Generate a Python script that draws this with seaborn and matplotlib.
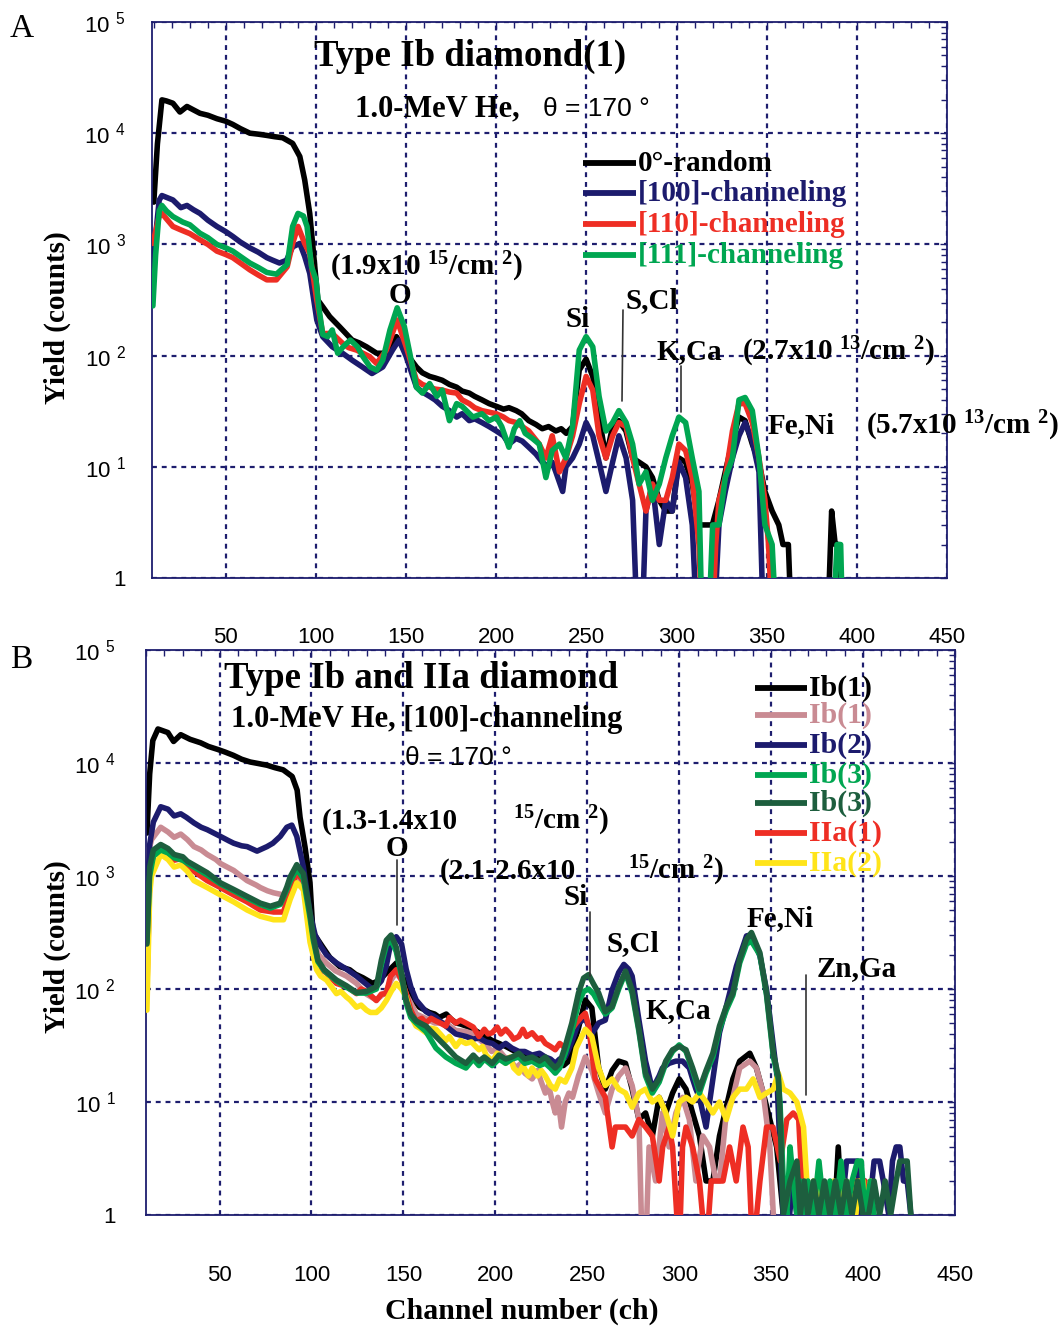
import numpy as np
import pandas as pd
import matplotlib
matplotlib.use("Agg")
import matplotlib.pyplot as plt
import seaborn as sns
from matplotlib.lines import Line2D
from matplotlib.ticker import MultipleLocator, LogLocator, FuncFormatter, NullFormatter

# ------------------------------------------------------------------ data
# Panel A : Type Ib diamond(1), 1.0-MeV He
a_random_ch = [10, 12, 14.5, 17, 20.6, 24.5, 28.4, 32, 35.6, 40, 45, 50, 53.8, 58, 63.3, 68, 72.7, 77, 81.5, 87,
               91, 93.7, 96.5, 99.3, 101, 103.7, 107.6, 113, 120, 124, 128, 133.6, 137, 141, 144.6, 148, 152, 155.7, 159, 163,
               166, 170, 174, 178, 181, 185, 188, 192, 196, 200, 204, 207, 211, 214, 218, 222, 225.5, 229, 233, 236,
               238.8, 242.3, 246, 249.8, 253.5, 257, 260.8, 264.5, 268, 271.9, 275.6, 279.2, 283, 286.6, 290.4, 294, 297.6, 301.3, 305, 308.7,
               312.4, 316, 319.8, 323.5, 327, 331, 334.6, 338, 342, 345.7, 349, 353, 356.7, 359, 362, 363.5, 384, 386, 388, 390,
               391.5]
a_random_cnt = [2400, 8000, 19950, 19500, 18600, 15500, 17400, 16200, 15100, 14500, 13500, 12800, 12000, 11000, 10000, 9800, 9550, 9300, 9100, 8100,
                6170, 3800, 1900, 630, 316, 275, 224, 182, 138, 130, 120, 105, 105, 112, 148, 120, 95, 79, 70, 65,
                63, 60, 55, 52, 48, 46, 43, 40, 37, 35, 33, 34, 32, 30, 26, 24, 22, 23, 21, 22,
                20, 23, 74, 93, 65, 28, 12, 23, 26, 21, 12, 11, 10, 8, 5, 4, 4, 12, 11, 7,
                3, 3, 3, 5, 9, 17, 28, 26, 16, 11, 6, 4, 3, 2, 2, 0, 0, 4, 2, 2,
                0]

a_100_ch = [9.5, 11, 13, 14.5, 17, 20.6, 25, 28.4, 32, 35.6, 40, 45, 50, 53.8, 58, 63.3, 68, 72.7, 76, 79.7,
            83.6, 87, 91, 93.7, 96.5, 100.4, 103.7, 109, 114.7, 120, 125.7, 131, 137, 142.4, 146, 150, 155.7, 159, 163, 166,
            170, 174, 178, 181, 185, 188, 192, 196, 200, 204, 207, 211, 214.4, 218, 222, 225.5, 229, 231, 233, 236.8,
            238.6, 242.3, 246, 249.8, 253.5, 257, 260.8, 264.5, 268, 272, 275.6, 278, 281, 283, 286.6, 290.4, 294, 297.6, 301.3, 305,
            308.7, 311, 321, 323.5, 327, 331, 334.6, 338, 342, 345.7, 348]
a_100_cnt = [480, 1200, 2500, 2750, 2650, 2510, 2140, 2240, 2050, 1900, 1650, 1450, 1300, 1180, 1050, 930, 850, 760, 720, 680,
             720, 950, 1020, 780, 550, 210, 148, 120, 105, 91, 79, 69, 79, 112, 138, 98, 52, 47, 43, 40,
             35, 32, 28, 30, 26, 27, 25, 23, 21, 19, 16, 18, 17, 15, 13, 11, 10, 11, 9, 6,
             10, 12, 16, 25, 19, 11, 6, 11, 19, 12, 5, 0, 0, 4, 7, 2, 5, 4, 11, 8,
             3, 0, 0, 3, 6, 12, 19, 25, 17, 9, 0]

a_110_ch = [9.5, 11, 13, 14.5, 17, 20.6, 25, 30, 35.6, 40, 45, 50, 53.8, 58, 63.3, 68, 72.7, 78, 84, 87,
            90, 93.7, 96.5, 100.4, 103.7, 109, 114.7, 118, 122.5, 126, 129.7, 133.6, 139, 145, 150, 155.7, 159, 163, 166, 170,
            174, 178, 181, 185, 188, 192, 196, 200, 204, 207, 211, 214.4, 218, 223.8, 227.5, 231, 235, 238.6, 242.3, 246,
            249.8, 253.5, 257, 260.8, 264.5, 268, 272, 275.6, 279.2, 283, 286.6, 290.4, 294, 297.6, 301.3, 305, 308.7, 312.4, 314, 320,
            321.7, 323.5, 327, 331, 334.6, 338, 342, 345.7, 349, 351, 353]
a_110_cnt = [1020, 1300, 1800, 1900, 1700, 1450, 1350, 1250, 1100, 1000, 870, 810, 760, 680, 590, 530, 480, 480, 630, 1020,
             1450, 1020, 830, 316, 158, 158, 129, 118, 112, 105, 98, 85, 112, 209, 120, 60, 55, 52, 50, 49,
             47, 46, 40, 37, 34, 32, 31, 30, 28, 26, 25, 23, 21, 16, 12, 19, 9, 12, 19, 37,
             65, 49, 19, 12, 19, 25, 23, 12, 7, 4, 7, 5, 5, 8, 16, 14, 8, 2, 0, 0,
             2, 5, 8, 21, 37, 37, 25, 12, 5, 2, 0]

a_111_ch = [9.5, 11, 13, 14.5, 17, 20.6, 26, 30, 35.6, 40, 45, 50, 53.8, 58, 63.3, 68, 72.7, 78, 84, 87,
            90, 93, 95, 97.5, 100, 101.5, 103.7, 106.5, 109, 112, 115, 119, 123, 126, 130, 133.6, 137, 141, 145, 149,
            152, 155.7, 159, 163, 167, 170, 174, 178, 181, 187, 192, 196, 200, 203, 207, 210, 213, 216, 220, 223.8,
            227.5, 231, 235, 238.6, 242.3, 246, 249.8, 253.5, 257, 260.8, 264.5, 268, 272, 275.6, 279.2, 283, 286.6, 290.4, 294, 297.6,
            301.3, 305, 308.7, 312.4, 314, 318, 320, 323.5, 327, 331, 334.6, 338, 342, 345.7, 349, 353, 355, 387, 389, 391,
            392]
a_111_cnt = [280, 800, 2000, 2240, 2000, 1780, 1590, 1500, 1260, 1150, 1000, 930, 870, 780, 680, 620, 560, 540, 660, 1450,
             1900, 1800, 1450, 630, 480, 275, 155, 148, 170, 105, 120, 138, 120, 98, 79, 74, 91, 170, 269, 182,
             105, 52, 46, 56, 43, 49, 26, 37, 35, 28, 30, 26, 28, 23, 15, 22, 26, 20, 18, 16,
             8, 14, 16, 12, 23, 112, 148, 120, 43, 21, 25, 32, 25, 16, 7, 9, 5, 7, 12, 19,
             28, 25, 12, 6, 0, 0, 3, 3, 8, 12, 40, 42, 32, 12, 3, 2, 0, 0, 2, 2,
             0]

a_labels = ["0\u00b0-random", "[100]-channeling", "[110]-channeling", "[111]-channeling"]

# Panel B : Type Ib and IIa diamond, [100]-channeling
b_ib1r_ch = [10.5, 12, 13.7, 16.5, 21.9, 25, 28.9, 34, 39.7, 44, 48.9, 53, 57.5, 62, 66.7, 71, 75.9, 80, 84.6, 89.5,
             92.2, 93.8, 96.5, 99.2, 100.8, 103, 106.2, 110, 115.4, 120.8, 124, 127.9, 133.3, 137, 140, 142.5, 146.2, 149.5, 153.3, 158.7,
             161, 164.1, 167, 169.5, 173.3, 176, 178.7, 181, 184.1, 188, 191.1, 195, 198.2, 202, 205.7, 209, 212.8, 216, 219.8, 224,
             227.4, 231, 234.4, 237, 239.9, 242, 245.2, 248.9, 252.5, 256.2, 259.8, 263.5, 267.1, 270.8, 274.4, 278.1, 281.7, 285.4, 289.1, 292.7,
             296.4, 300, 303.7, 307.3, 311, 314.6, 318.3, 321.9, 325.6, 329.2, 332.9, 338.4, 342, 345.7, 349.3, 353, 354.8, 356.6, 358, 383,
             384.5, 386.5, 388.5, 390]
b_ib1r_cnt = [2400, 8000, 15800, 20000, 18600, 15500, 17800, 16200, 15100, 14000, 13200, 12500, 11700, 10800, 10200, 9900, 9550, 9100, 8700, 7600,
              5750, 3300, 1800, 870, 316, 280, 234, 190, 158, 148, 135, 126, 112, 120, 135, 148, 170, 129, 91, 69,
              66, 62, 60, 56, 60, 54, 50, 49, 47, 44, 41, 38, 35, 33, 31, 29, 27, 26, 25, 24,
              23, 22, 22, 21, 23, 30, 45, 80, 68, 20, 13, 19, 23, 22, 13, 7, 8, 5, 11, 8,
              12, 16, 13, 8, 5, 2, 2, 5, 9, 16, 23, 27, 20, 12, 7, 4, 2, 1, 0, 0,
              1, 4, 1, 0]

b_ib1c_ch = [10.5, 12, 13, 18, 22, 25.3, 28.9, 32.5, 36.1, 40, 43.3, 48, 50.5, 55, 57.7, 62, 65, 70, 72.2, 76,
             79.4, 84.8, 88.4, 92, 95.6, 99.2, 101, 104, 108, 113, 119, 124.5, 129.9, 135.3, 140.7, 143.3, 146.1, 149, 151.5, 154,
             157, 162, 167, 173, 178.5, 184, 188, 191, 195, 198, 201, 205, 208, 211, 214, 216, 220, 223, 225, 227.2,
             229, 231, 232.6, 234, 236, 238, 240, 242, 245.2, 248.9, 252.5, 256.2, 259.8, 263.5, 267.1, 270.8, 274.4, 278.1, 279.9, 281.7,
             283.6, 287.2, 290.9, 294.5, 298.2, 301.8, 305.5, 309.1, 312.8, 316.5, 320, 322, 325.6, 329.2, 332.9, 338.4, 342, 345.7, 349.3, 351.2,
             353]
b_ib1c_cnt = [300, 1800, 2100, 2700, 2450, 2200, 2350, 2100, 1820, 1700, 1550, 1400, 1290, 1180, 1120, 990, 910, 830, 790, 740,
              710, 680, 790, 910, 760, 400, 260, 200, 170, 145, 130, 112, 90, 80, 95, 120, 140, 120, 90, 75,
              60, 55, 50, 50, 43, 42, 40, 36, 32, 28, 30, 25, 24, 20, 22, 18, 16, 19, 15, 12,
              14, 10, 8, 11, 6, 10, 12, 11, 17, 25, 19, 12, 8, 13, 17, 20, 14, 7, 0, 0,
              4, 2, 8, 4, 8, 11, 7, 2, 5, 4, 2, 2, 8, 11, 20, 23, 20, 12, 4, 1,
              0]

b_ib2_ch = [10.5, 12, 14, 18, 22, 25.3, 28.9, 32, 36.1, 40, 43.3, 48, 50.5, 55, 57.7, 62, 65, 70.4, 75.8, 79,
            83, 86.6, 89.3, 92, 95.6, 99.2, 102, 105, 108.2, 113.6, 119, 124.5, 129.9, 133, 135.3, 138, 140.7, 143, 146.1, 149,
            151.5, 154, 156.9, 162.3, 167.7, 173.1, 178.5, 184, 188, 191.1, 195, 198.3, 202, 205.6, 209, 212.8, 216, 220, 224, 227.2,
            230, 232.6, 235, 238, 241.6, 245.2, 248.9, 252.5, 256.2, 259.8, 263.5, 267.1, 269.9, 272.5, 274.4, 278.1, 281.7, 285.4, 289.1, 290.9,
            294.5, 298.2, 301.8, 305.5, 307.3, 309.1, 311, 314.6, 318.3, 321.9, 325.6, 331.1, 336.6, 339.3, 343.9, 347.5, 351.2, 353, 354.8, 356.6,
            358.5, 360, 362, 364, 367, 369, 371, 374, 376, 378, 380, 383, 385, 388, 391, 394, 397, 399, 401, 403,
            406, 409, 411, 414, 416, 418, 420, 422, 424, 426, 428]
b_ib2_cnt = [600, 1900, 3000, 4100, 3900, 3400, 3550, 3300, 2950, 2700, 2570, 2350, 2240, 2050, 1950, 1850, 1820, 1660, 1820, 1950,
             2240, 2700, 2820, 2240, 1200, 470, 300, 240, 200, 170, 150, 130, 110, 100, 105, 118, 160, 250, 290, 250,
             150, 105, 80, 63, 56, 47, 40, 38, 36, 37, 34, 33, 30, 33, 30, 28, 28, 26, 27, 25,
             24, 22, 24, 25, 34, 50, 55, 40, 50, 53, 98, 140, 165, 150, 130, 53, 23, 13, 17, 20,
             22, 23, 23, 20, 16, 13, 11, 6, 16, 41, 70, 159, 295, 302, 196, 98, 31, 18, 4, 1,
             2, 1, 2, 1, 2, 2, 1, 1, 2, 1, 0, 1, 2, 1, 3, 3, 3, 1, 2, 1,
             3, 3, 2, 1, 3, 4, 4, 2, 2, 1, 0]

b_ib3_ch = [10.5, 12, 14, 18, 22, 25.3, 30, 32.5, 36.1, 43.3, 50.5, 57.7, 65, 72.2, 77.6, 83, 86.6, 88.4, 92, 95.6,
            99.2, 101, 103.5, 107, 113.6, 119, 124.5, 129.9, 135.3, 138, 140.7, 143.3, 146.1, 149, 151.5, 154, 157, 162.3, 167.7, 173.1,
            178.5, 184, 188, 191.1, 194, 198.3, 202, 205.6, 209, 212.8, 216, 220, 224, 227.2, 230, 232.6, 235, 238, 241.6, 245.2,
            248, 250.7, 253.5, 256.2, 259.8, 263.5, 267.1, 270.8, 274.4, 278.1, 281.7, 285.4, 289.1, 292.7, 296.4, 300, 303.7, 307.3, 311, 314.6,
            318.3, 321.9, 325.6, 329.2, 332.9, 336.6, 339.3, 343.9, 347.5, 351.2, 353.9, 354.8, 356.6, 358.5, 360.3, 362, 364, 366, 368, 370,
            373, 376, 379, 382, 385, 388, 391, 394, 397, 399, 401, 404, 406, 408]
b_ib3_cnt = [260, 1000, 1500, 1700, 1600, 1450, 1380, 1300, 1200, 1020, 850, 740, 640, 560, 520, 560, 760, 900, 1150, 950,
             430, 270, 175, 145, 118, 104, 92, 92, 100, 165, 245, 270, 215, 130, 75, 56, 50, 42, 30, 25,
             22, 20, 24, 21, 24, 21, 24, 22, 24, 25, 22, 23, 21, 22, 20, 18, 20, 27, 42, 75,
             95, 100, 90, 75, 60, 68, 100, 140, 92, 42, 17, 12, 15, 22, 28, 32, 28, 19, 12, 18,
             25, 44, 65, 88, 170, 250, 265, 200, 88, 25, 16, 10, 2, 1, 4, 2, 1, 2, 1, 2,
             1, 3, 1, 2, 1, 3, 1, 2, 3, 3, 1, 2, 1, 0]

b_ib3d_ch = [10.5, 12, 14, 18, 22, 25.3, 30, 32.5, 36.1, 43.3, 50.5, 57.7, 65, 72.2, 77.6, 83, 86.6, 88.4, 92, 95.6,
             99.2, 101, 103.5, 107, 113.6, 119, 124.5, 129.9, 135.3, 138, 140.7, 143.3, 146.1, 149, 151.5, 154, 157, 162.3, 167.7, 173.1,
             178.5, 184, 188, 191.1, 194, 198.3, 202, 205.6, 209, 212.8, 216, 220, 224, 227.2, 230, 232.6, 235, 238, 241.6, 245.2,
             248, 250.7, 253.5, 256.2, 259.8, 263.5, 267.1, 270.8, 274.4, 278.1, 281.7, 285.4, 289.1, 292.7, 296.4, 300, 303.7, 307.3, 311, 314.6,
             318.3, 321.9, 325.6, 329.2, 332.9, 336.6, 339.3, 343.9, 347.5, 351.2, 353.9, 354.8, 356.6, 360.3, 364, 365.8, 368, 370, 373, 376,
             379, 382, 385, 388, 391, 394, 397, 400, 403, 406, 409, 412, 415, 418, 420, 422, 424, 426, 427]
b_ib3d_cnt = [250, 1200, 1700, 1900, 1750, 1550, 1480, 1350, 1250, 1070, 870, 760, 660, 575, 540, 575, 800, 980, 1260, 1050,
              470, 290, 180, 148, 120, 107, 93, 95, 105, 180, 270, 300, 235, 138, 80, 60, 52, 47, 38, 31,
              25, 22, 26, 23, 25, 22, 26, 24, 25, 27, 24, 25, 23, 25, 22, 20, 22, 31, 50, 92,
              125, 134, 110, 92, 63, 70, 105, 144, 98, 44, 18, 13, 16, 23, 29, 31, 29, 20, 13, 19,
              27, 47, 70, 92, 182, 275, 316, 209, 92, 27, 17, 8, 1, 2, 3, 1, 2, 1, 2, 1,
              2, 1, 2, 1, 2, 1, 2, 1, 1, 2, 1, 2, 1, 2, 3, 3, 3, 1, 0]

b_iia1_ch = [10.5, 12, 14, 18, 22, 25.3, 28.9, 32.5, 36.1, 43.3, 50.5, 57.7, 65, 72.2, 79.4, 84.8, 88.4, 92, 95.6, 99.2,
             102.8, 105, 108.2, 113.6, 119, 124.5, 127, 129.9, 135.3, 138, 140.7, 143, 146.1, 149, 151.5, 154, 156.9, 160, 162.3, 165,
             167.7, 170, 173.1, 175, 178.5, 181, 184, 188, 191.1, 194, 196, 198.3, 201, 203, 205.6, 208, 210, 212.8, 215, 217,
             220, 223, 225, 227.2, 230, 232.6, 235, 238, 241.6, 244, 247, 248.9, 250.7, 254.3, 259.8, 263.5, 265.3, 270.8, 274.4, 278.1,
             281.7, 285.4, 289.1, 291, 294.5, 296.4, 300, 301.8, 303.7, 307.3, 311, 314.6, 317.4, 320, 323.8, 327.4, 331, 334.7, 337.5, 340,
             343.9, 347.5, 351, 355, 358.5, 362, 365, 366.7, 369.4, 371, 393, 395, 398, 401, 403]
b_iia1_cnt = [100, 900, 1500, 1800, 1600, 1380, 1420, 1250, 1100, 910, 790, 680, 590, 500, 480, 480, 760, 1070, 900, 320,
              160, 150, 138, 112, 105, 91, 100, 95, 79, 90, 91, 130, 148, 120, 91, 65, 52, 55, 50, 55,
              52, 50, 47, 56, 50, 53, 50, 46, 38, 44, 40, 41, 46, 40, 44, 40, 36, 38, 44, 38,
              41, 36, 37, 33, 31, 29, 33, 30, 44, 50, 57, 61, 47, 16, 11, 4, 6, 6, 5, 7,
              6, 5, 2, 4, 6, 4, 0, 4, 6, 4, 2, 0, 2, 2, 2, 4, 2, 6, 4, 0,
              2, 6, 6, 3, 7, 8, 7, 2, 1, 0, 0, 2, 2, 2, 0]

b_iia2_ch = [10.5, 12, 13, 18, 22, 25.3, 28.9, 32.5, 36.1, 43.3, 50.5, 57.7, 65, 72.2, 79.4, 84.8, 88.4, 92, 95.6, 99.2,
             102.8, 105, 108.2, 113.6, 116, 119, 121, 124.5, 127, 129.9, 132, 135.3, 138, 140.7, 143.3, 146.1, 149, 151.5, 154, 156.9,
             159, 162.3, 165, 167.7, 170, 173.1, 175, 178.5, 181, 184, 187, 191.1, 193, 195, 198.3, 201, 205.6, 208, 210, 212.8,
             215, 218, 220, 223, 225, 227.2, 230, 232.6, 235, 238, 241.6, 244, 247, 248.9, 250.7, 252.5, 256.2, 259.8, 263.5, 267.1,
             270.8, 274.4, 278.1, 281.7, 285.4, 289.1, 292.7, 296.4, 300, 303.7, 307.3, 311, 314.6, 318.3, 321.9, 325.6, 329.2, 332.9, 336.6, 340.2,
             343.9, 347.5, 351.2, 353.9, 356.6, 360.3, 364, 367.6, 369.4, 371.3, 373, 375, 377, 379, 381, 384, 386, 388, 390, 392,
             394, 396, 398, 400, 402, 404, 406]
b_iia2_cnt = [65, 700, 1000, 1550, 1400, 1200, 1250, 1100, 910, 790, 680, 590, 500, 440, 410, 410, 620, 870, 760, 260,
              148, 130, 120, 91, 95, 85, 80, 69, 72, 65, 62, 62, 68, 79, 95, 112, 100, 85, 58, 47,
              45, 41, 45, 44, 40, 35, 38, 31, 35, 33, 34, 29, 31, 26, 23, 27, 22, 25, 20, 18,
              21, 17, 20, 17, 19, 17, 14, 13, 16, 15, 20, 30, 38, 44, 41, 38, 20, 14, 16, 13,
              12, 9, 12, 13, 10, 11, 8, 5, 10, 11, 10, 12, 10, 8, 10, 7, 11, 13, 13, 16,
              11, 12, 13, 18, 13, 12, 10, 6, 2, 1, 2, 1, 2, 1, 1, 2, 1, 1, 2, 1,
              2, 1, 2, 2, 1, 2, 0]

b_labels = ["Ib(1)", "Ib(1)", "Ib(2)", "Ib(3)", "Ib(3)", "IIa(1)", "IIa(2)"]

# ------------------------------------------------------------------ style
sns.set_theme(style="white")
SERIF = "Liberation Serif"
SANS = "Liberation Sans"
plt.rcParams["font.family"] = [SERIF, "DejaVu Serif"]
plt.rcParams["mathtext.default"] = "regular"

AXC = "#1e1e6e"
BLACK = "#000000"
NAVY = "#1c1b6d"
RED = "#ee2e24"
GREEN = "#00a651"
PINK = "#c98b93"
DKGREEN = "#1d5e3e"
YELLOW = "#ffe41a"
LW = 4.0

W, H = 1063, 1327
fig = plt.figure(figsize=(W / 100, H / 100), dpi=100)
fig.patch.set_facecolor("white")


def fx(px):
    return px / W


def fy(py):
    return 1 - py / H


def ylab(v, pos):
    e = int(round(np.log10(v)))
    return "1" if e == 0 else "10 $^{%d}$" % e


def style_axes(ax, xlim, ypad, xpad):
    ax.set_yscale("log")
    ax.set_xlim(*xlim)
    ax.set_ylim(1, 1e5)
    ax.xaxis.set_major_locator(MultipleLocator(50))
    ax.xaxis.set_minor_locator(MultipleLocator(10))
    ax.yaxis.set_major_locator(LogLocator(base=10, numticks=10))
    ax.yaxis.set_minor_locator(LogLocator(base=10, subs=np.arange(2, 10), numticks=30))
    ax.yaxis.set_minor_formatter(NullFormatter())
    ax.yaxis.set_major_formatter(FuncFormatter(ylab))
    ax.tick_params(which="both", direction="in", top=True, right=True, color=AXC,
                   labelcolor="black", labelfontfamily=SANS, labelsize=16, width=1.0)
    ax.tick_params(which="major", length=5)
    ax.tick_params(which="minor", length=4)
    ax.tick_params(axis="x", pad=xpad)
    ax.tick_params(axis="y", pad=ypad)
    ax.grid(True, which="major", color=AXC, linestyle=(0, (2.2, 2.2)), linewidth=1.6)
    ax.set_axisbelow(True)
    for s in ax.spines.values():
        s.set_color(AXC)
        s.set_linewidth(1.3)
    ax.set_xlabel("")
    ax.set_ylabel("")


def draw(ax, ch, cnt, color, z):
    assert len(ch) == len(cnt), (len(ch), len(cnt))
    c = np.asarray(cnt, dtype=float)
    df = pd.DataFrame({"ch": ch, "cnt": np.where(c > 0, c, 0.45)})  # zero counts fall below the axis
    sns.lineplot(data=df, x="ch", y="cnt", ax=ax, color=color, lw=LW, estimator=None,
                 sort=False, zorder=z, legend=False)


def ftxt(xp, yp, s, size, ha="center", va="baseline", family=SERIF, weight="bold", color="black", **kw):
    fig.text(fx(xp), fy(yp), s, fontsize=size, ha=ha, va=va, family=family,
             fontweight=weight, color=color, **kw)


def legend(x0, x1, ys, labels, colors, size):
    for y, lab, c in zip(ys, labels, colors):
        fig.add_artist(Line2D([fx(x0), fx(x1)], [fy(y), fy(y)], transform=fig.transFigure,
                              color=c, lw=4.2, solid_capstyle="butt"))
        ftxt(x1 + 2, y + 8, lab, size, ha="left", color=c)


def pointer(p0, p1):
    fig.add_artist(Line2D([fx(p0[0]), fx(p1[0])], [fy(p0[1]), fy(p1[1])], transform=fig.transFigure,
                          color="#333333", lw=1.2))


# ------------------------------------------------------------------ panel A
axA = fig.add_axes([fx(152), fy(578), (947 - 152) / W, (578 - 22) / H])
axA.set_yscale("log")
draw(axA, a_random_ch, a_random_cnt, BLACK, 2)
draw(axA, a_100_ch, a_100_cnt, NAVY, 3)
draw(axA, a_110_ch, a_110_cnt, RED, 4)
draw(axA, a_111_ch, a_111_cnt, GREEN, 5)
style_axes(axA, (9, 450), 19, 35)

# ------------------------------------------------------------------ panel B
axB = fig.add_axes([fx(146), fy(1215), (955 - 146) / W, (1215 - 650) / H])
axB.set_yscale("log")
draw(axB, b_ib1r_ch, b_ib1r_cnt, BLACK, 2)
draw(axB, b_ib1c_ch, b_ib1c_cnt, PINK, 3)
draw(axB, b_ib2_ch, b_ib2_cnt, NAVY, 4)
draw(axB, b_iia1_ch, b_iia1_cnt, RED, 5)
draw(axB, b_iia2_ch, b_iia2_cnt, YELLOW, 6)
draw(axB, b_ib3_ch, b_ib3_cnt, GREEN, 7)
draw(axB, b_ib3d_ch, b_ib3d_cnt, DKGREEN, 8)
style_axes(axB, (10, 450), 22, 36)

# ------------------------------------------------------------------ texts panel A
ftxt(10, 37, "A", 24, ha="left", weight="normal")
ftxt(470, 66, "Type Ib diamond(1)", 26.5)
ftxt(355, 116, "1.0-MeV He,", 22, ha="left")
ftxt(543, 116, "\u03b8 = 170 \u00b0", 19, ha="left", family=SANS, weight="normal")
legend(583, 636, [163, 193, 224, 255], a_labels, [BLACK, NAVY, RED, GREEN], 21)
ftxt(330, 275, "(1.9x10 $^{15}$/cm $^{2}$)", 21, ha="left")
ftxt(400, 303, "O", 21)
ftxt(578, 327, "Si", 21)
ftxt(652, 308, "S,Cl", 21)
ftxt(689, 359, "K,Ca", 21)
ftxt(742, 360, "(2.7x10 $^{13}$/cm $^{2}$)", 21, ha="left")
ftxt(801, 433, "Fe,Ni", 21)
ftxt(866, 434, "(5.7x10 $^{13}$/cm $^{2}$)", 21, ha="left")
pointer((623, 310), (622, 401))
pointer((681, 366), (681, 412))
ftxt(57, 318, "Yield (counts)", 21, va="center", rotation=90)

# ------------------------------------------------------------------ texts panel B
ftxt(10, 668, "B", 24, ha="left", weight="normal")
ftxt(421, 688, "Type Ib and IIa diamond", 26.5)
ftxt(427, 727, "1.0-MeV He, [100]-channeling", 22)
ftxt(405, 765, "\u03b8 = 170 \u00b0", 19, ha="left", family=SANS, weight="normal")
legend(755, 807, [688, 715, 745, 775, 803, 833, 863], b_labels,
       [BLACK, PINK, NAVY, GREEN, DKGREEN, RED, YELLOW], 21.5)
ftxt(322, 829, "(1.3-1.4x10", 21, ha="left")
ftxt(513, 829, "$^{15}$/cm $^{2}$)", 21, ha="left")
ftxt(397, 856, "O", 21)
ftxt(440, 879, "(2.1-2.6x10", 21, ha="left")
ftxt(628, 879, "$^{15}$/cm $^{2}$)", 21, ha="left")
ftxt(576, 905, "Si", 21)
ftxt(633, 951, "S,Cl", 21)
ftxt(678, 1018, "K,Ca", 21)
ftxt(780, 926, "Fe,Ni", 21)
ftxt(857, 976, "Zn,Ga", 21)
pointer((397, 860), (397, 925))
pointer((590, 912), (590, 976))
pointer((806, 975), (806, 1095))
ftxt(57, 947, "Yield (counts)", 21, va="center", rotation=90)
ftxt(522, 1311, "Channel number (ch)", 21.5, va="center")

fig.savefig("out.png", dpi=100, facecolor="white")
